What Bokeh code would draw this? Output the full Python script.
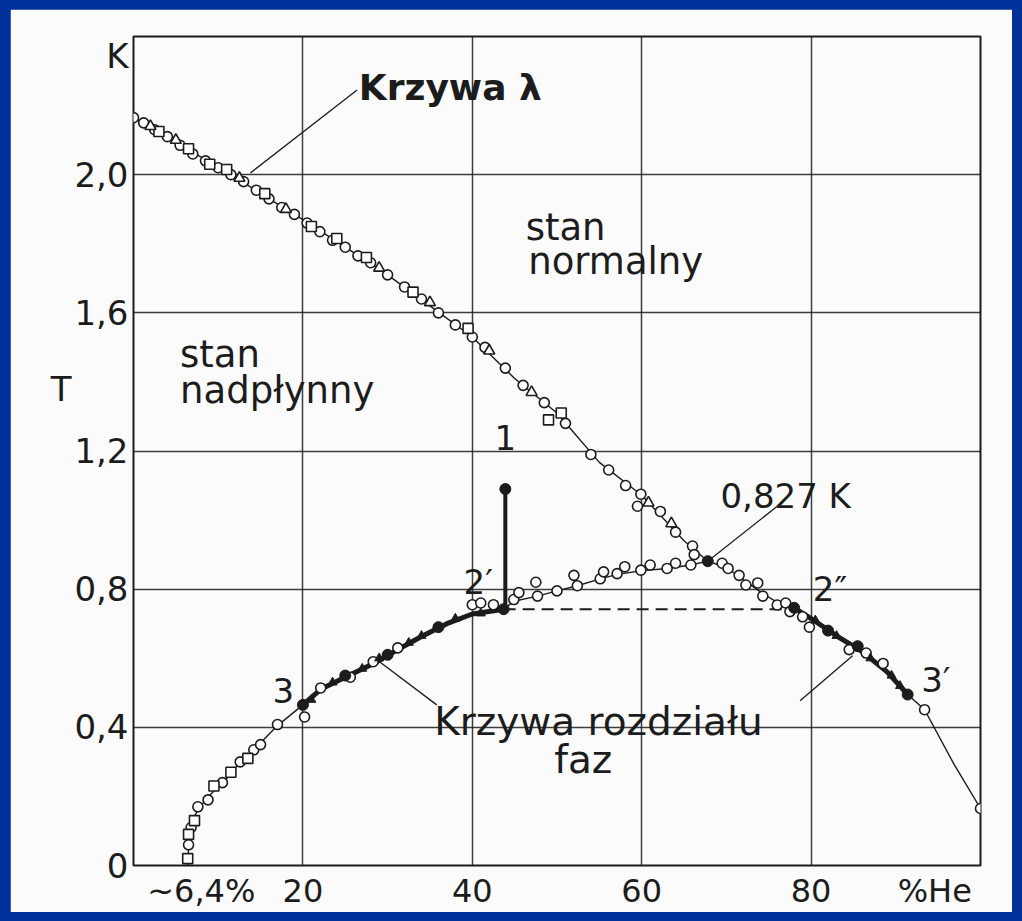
from bokeh.plotting import figure
from bokeh.models import Label, FixedTicker, Range1d, LinearAxis
from bokeh.layouts import column
from bokeh.embed import file_html
from bokeh.resources import INLINE

FONT = "DejaVu Sans"
INK = "#1c1c1c"
BLUE = "#00319a"
PAPER = "#fbfbfb"

# ---------------- data ----------------
# lambda line (x = % He3, T in K)
lam_x = [0, 5, 10, 15, 20, 25, 30, 35, 40, 45, 50, 55, 60, 65, 67.8]
lam_T = [2.165, 2.09, 2.025, 1.945, 1.87, 1.79, 1.71, 1.62, 1.53, 1.41, 1.31, 1.167, 1.072, 0.94, 0.881]

# phase-separation curve, He3-rich side
rb_x = [67.8, 70.0, 72.0, 74.0, 76.0, 78.0]
rb_T = [0.881, 0.862, 0.828, 0.792, 0.762, 0.746]
rt_x = [78.0, 80.0, 83.0, 86.0, 89.0, 91.4]
rt_T = [0.746, 0.715, 0.665, 0.62, 0.56, 0.495]
rtail_x = [91.4, 93.4, 96.9, 100.0]
rtail_T = [0.495, 0.451, 0.292, 0.165]

# phase-separation curve, He4-rich side
lb_x = [6.4, 6.5, 6.7, 7.1, 7.9, 8.7, 9.9, 11.1, 12.6, 14.2, 17.0, 20.0]
lb_T = [0.0, 0.05, 0.10, 0.14, 0.17, 0.196, 0.225, 0.254, 0.30, 0.335, 0.405, 0.465]
lt_x = [20.0, 22.1, 25.6, 28.3, 31.2, 34.0, 37.0, 40.0, 43.7]
lt_T = [0.465, 0.51, 0.552, 0.584, 0.625, 0.663, 0.700, 0.728, 0.742]

# metastable continuation 2' -> tricritical point
ms_x = [43.7, 44.9, 47.7, 50.0, 52.4, 55.1, 57.1, 59.9, 63.0, 65.8, 67.8]
ms_T = [0.742, 0.765, 0.78, 0.795, 0.81, 0.83, 0.843, 0.853, 0.86, 0.87, 0.881]

# tie line 2' - 2''
tie_x = [43.7, 78.0]
tie_T = [0.742, 0.742]

# path 1 -> 2'
path_x = [43.9, 43.9]
path_T = [1.09, 0.742]

# open circles
oc_x = [0.0, 1.2, 2.5, 4.0, 5.5, 7.0, 8.5, 10.0, 11.5, 13.0, 14.5, 16.0, 17.5, 19.0, 20.5,
        22.0, 23.5, 25.0, 26.5, 28.0, 30.0, 32.0, 34.0, 36.0, 38.0, 40.0, 41.5, 43.9, 46.0,
        48.5, 51.0, 54.0, 56.1, 58.1, 59.9, 59.5, 62.2, 64.0, 66.0, 66.2,
        69.5, 70.2, 71.5, 72.3, 73.7, 74.3, 76.0, 77.0, 77.5, 79.0, 79.8, 84.5, 86.5, 88.5,
        93.4, 100.0,
        44.9, 47.7, 50.0, 52.4, 55.1, 57.1, 59.9, 63.0, 65.8, 47.5, 52.0, 55.5, 58.0, 61.0,
        64.0, 40.0, 41.0, 42.5, 45.5,
        6.5, 6.8, 7.6, 8.8, 10.5, 12.6, 14.2, 15.0, 17.0, 20.2, 22.1, 25.6, 28.3, 31.2]
oc_T = [2.165, 2.15, 2.13, 2.11, 2.085, 2.06, 2.04, 2.02, 2.0, 1.98, 1.955, 1.93, 1.905, 1.885, 1.86,
        1.835, 1.81, 1.79, 1.765, 1.745, 1.71, 1.675, 1.64, 1.6, 1.565, 1.53, 1.50, 1.44, 1.39,
        1.34, 1.28, 1.19, 1.145, 1.10, 1.075, 1.04, 1.025, 0.965, 0.925, 0.90,
        0.875, 0.86, 0.84, 0.812, 0.818, 0.78, 0.754, 0.76, 0.735, 0.72, 0.69, 0.625, 0.615, 0.585,
        0.451, 0.165,
        0.77, 0.78, 0.795, 0.81, 0.83, 0.845, 0.855, 0.86, 0.87, 0.82, 0.84, 0.85, 0.865, 0.87,
        0.875, 0.755, 0.76, 0.755, 0.79,
        0.06, 0.11, 0.17, 0.19, 0.24, 0.30, 0.335, 0.35, 0.408, 0.43, 0.514, 0.545, 0.59, 0.63]

# open squares
sq_x = [3.0, 6.5, 9.0, 11.0, 15.5, 21.0, 24.0, 27.5, 33.0, 39.5, 49.0, 50.5, 6.4, 6.5, 7.2, 9.5, 11.5, 13.5]
sq_T = [2.125, 2.075, 2.03, 2.015, 1.945, 1.85, 1.815, 1.76, 1.66, 1.555, 1.29, 1.31, 0.02, 0.09, 0.13, 0.23, 0.27, 0.31]

# open triangles
tr_x = [2.0, 5.0, 12.5, 18.0, 29.0, 35.0, 42.0, 47.0, 60.8, 63.5]
tr_T = [2.14, 2.10, 1.99, 1.90, 1.73, 1.63, 1.49, 1.37, 1.05, 0.99]

# filled circles
fc_x = [20.0, 25.0, 30.0, 36.0, 43.7, 78.0, 82.0, 85.5, 91.4, 43.9, 67.8]
fc_T = [0.465, 0.55, 0.61, 0.69, 0.742, 0.746, 0.68, 0.635, 0.495, 1.09, 0.881]

# filled triangles
ft_x = [21.0, 23.5, 27.0, 29.0, 32.5, 34.0, 38.0, 41.0, 80.5, 83.0, 87.0, 89.5, 90.5]
ft_T = [0.48, 0.53, 0.57, 0.60, 0.645, 0.665, 0.715, 0.73, 0.71, 0.665, 0.60, 0.55, 0.52]

# leader lines
lead_lam_x = [13.8, 26.4]
lead_lam_T = [2.005, 2.245]
lead_tc_x = [67.8, 76.0]
lead_tc_T = [0.881, 1.04]
lead_l_x = [28.5, 35.8]
lead_l_T = [0.60, 0.465]
lead_r_x = [78.7, 84.9]
lead_r_T = [0.477, 0.607]

# axis texts
x_ticks = [8.0, 20, 40, 60, 80, 94.6]
x_tick_labels = ["~6,4%", "20", "40", "60", "80", "%He"]
x_grid = [20, 40, 60, 80]
y_ticks = [0, 0.4, 0.8, 1.2, 1.6, 2.0, 2.343]
y_tick_labels = ["0", "0,4", "0,8", "1,2", "1,6", "2,0", "K"]
y_grid = [0.4, 0.8, 1.2, 1.6, 2.0]
t_tick = [1.38]
t_label = ["T"]

# ---------------- figure ----------------
p = figure(width=1002, height=903, output_backend="svg", toolbar_location=None,
           x_range=Range1d(0, 100), y_range=Range1d(0, 2.4),
           min_border_left=123, min_border_right=32, min_border_top=27, min_border_bottom=44,
           background_fill_color=PAPER, border_fill_color=PAPER)
p.margin = (9, 10, 9, 10)
p.outline_line_color = INK
p.outline_line_width = 2

t_axis = LinearAxis(ticker=FixedTicker(ticks=t_tick),
                    major_label_overrides=dict(zip(t_tick, t_label)))
p.add_layout(t_axis, "left")

for ax in (p.xaxis[0], p.yaxis[0], t_axis):
    ax.axis_line_color = None
    ax.major_tick_line_color = None
    ax.minor_tick_line_color = None
    ax.major_tick_out = 0
    ax.minor_tick_out = 0
    ax.major_label_text_font = FONT
    ax.major_label_text_color = INK

p.xaxis[0].ticker = FixedTicker(ticks=x_ticks)
p.xaxis[0].major_label_overrides = dict(zip(x_ticks, x_tick_labels))
p.xaxis[0].major_label_text_font_size = "32px"
p.xaxis[0].major_label_standoff = 6
p.yaxis[0].ticker = FixedTicker(ticks=y_ticks)
p.yaxis[0].major_label_overrides = dict(zip(y_ticks, y_tick_labels))
p.yaxis[0].major_label_text_font_size = "34px"
p.yaxis[0].major_label_standoff = 5
t_axis.major_label_text_font_size = "34px"
t_axis.major_label_standoff = 0

p.xgrid.ticker = FixedTicker(ticks=x_grid)
p.ygrid.ticker = FixedTicker(ticks=y_grid)
p.xgrid.grid_line_color = INK
p.ygrid.grid_line_color = INK
p.xgrid.grid_line_width = 1.5
p.ygrid.grid_line_width = 1.5
p.xgrid.grid_line_alpha = 0.85
p.ygrid.grid_line_alpha = 0.85

thin = dict(line_color=INK, line_width=1.4)
thick = dict(line_color=INK, line_width=5)

p.line(lam_x, lam_T, **thin)
p.line(rb_x, rb_T, **thin)
p.line(rtail_x, rtail_T, **thin)
p.line(lb_x, lb_T, **thin)
p.line(ms_x, ms_T, **thin)
p.line(lt_x, lt_T, **thick)
p.line(rt_x, rt_T, **thick)
p.line(tie_x, tie_T, line_color=INK, line_width=2, line_dash="12 7")
p.line(path_x, path_T, line_color=INK, line_width=4)
for lx, ly in ((lead_lam_x, lead_lam_T), (lead_tc_x, lead_tc_T), (lead_l_x, lead_l_T), (lead_r_x, lead_r_T)):
    p.line(lx, ly, line_color=INK, line_width=1.3)

p.scatter(oc_x, oc_T, marker="circle", size=10, fill_color="white", line_color=INK, line_width=1.6)
p.scatter(sq_x, sq_T, marker="square", size=10, fill_color="white", line_color=INK, line_width=1.6)
p.scatter(tr_x, tr_T, marker="triangle", size=11, fill_color="white", line_color=INK, line_width=1.6)
p.scatter(ft_x, ft_T, marker="triangle", size=9, fill_color=INK, line_color=INK)
p.scatter(fc_x, fc_T, marker="circle", size=11, fill_color=INK, line_color=INK)


def lab(x, y, text, size="34px", align="left", baseline="middle", style="normal"):
    p.add_layout(Label(x=x, y=y, text=text, text_font=FONT, text_font_size=size,
                       text_color=INK, text_align=align, text_baseline=baseline,
                       text_font_style=style))


lab(26.6, 2.251, "Krzywa λ", size="36px", style="bold")
lab(46.3, 1.847, "stan", size="37px", baseline="alphabetic")
lab(46.6, 1.749, "normalny", size="37px", baseline="alphabetic")
lab(5.5, 1.48, "stan", size="37px", baseline="alphabetic")
lab(5.5, 1.374, "nadpłynny", size="37px", baseline="alphabetic")
lab(43.9, 1.24, "1", size="34px", align="center")
lab(69.3, 1.071, "0,827 K", size="34px")
lab(40.7, 0.822, "2′", size="34px", align="center")
lab(80.2, 0.80, "2″", size="34px", align="left")
lab(17.7, 0.508, "3", size="34px", align="center")
lab(93.0, 0.537, "3′", size="34px", align="left")
lab(35.5, 0.418, "Krzywa rozdziału", size="39px", baseline="alphabetic")
lab(53.1, 0.306, "faz", size="39px", align="center", baseline="alphabetic")

root = column(p, styles={"background-color": BLUE})
open("out.html", "w").write(file_html(root, INLINE))
